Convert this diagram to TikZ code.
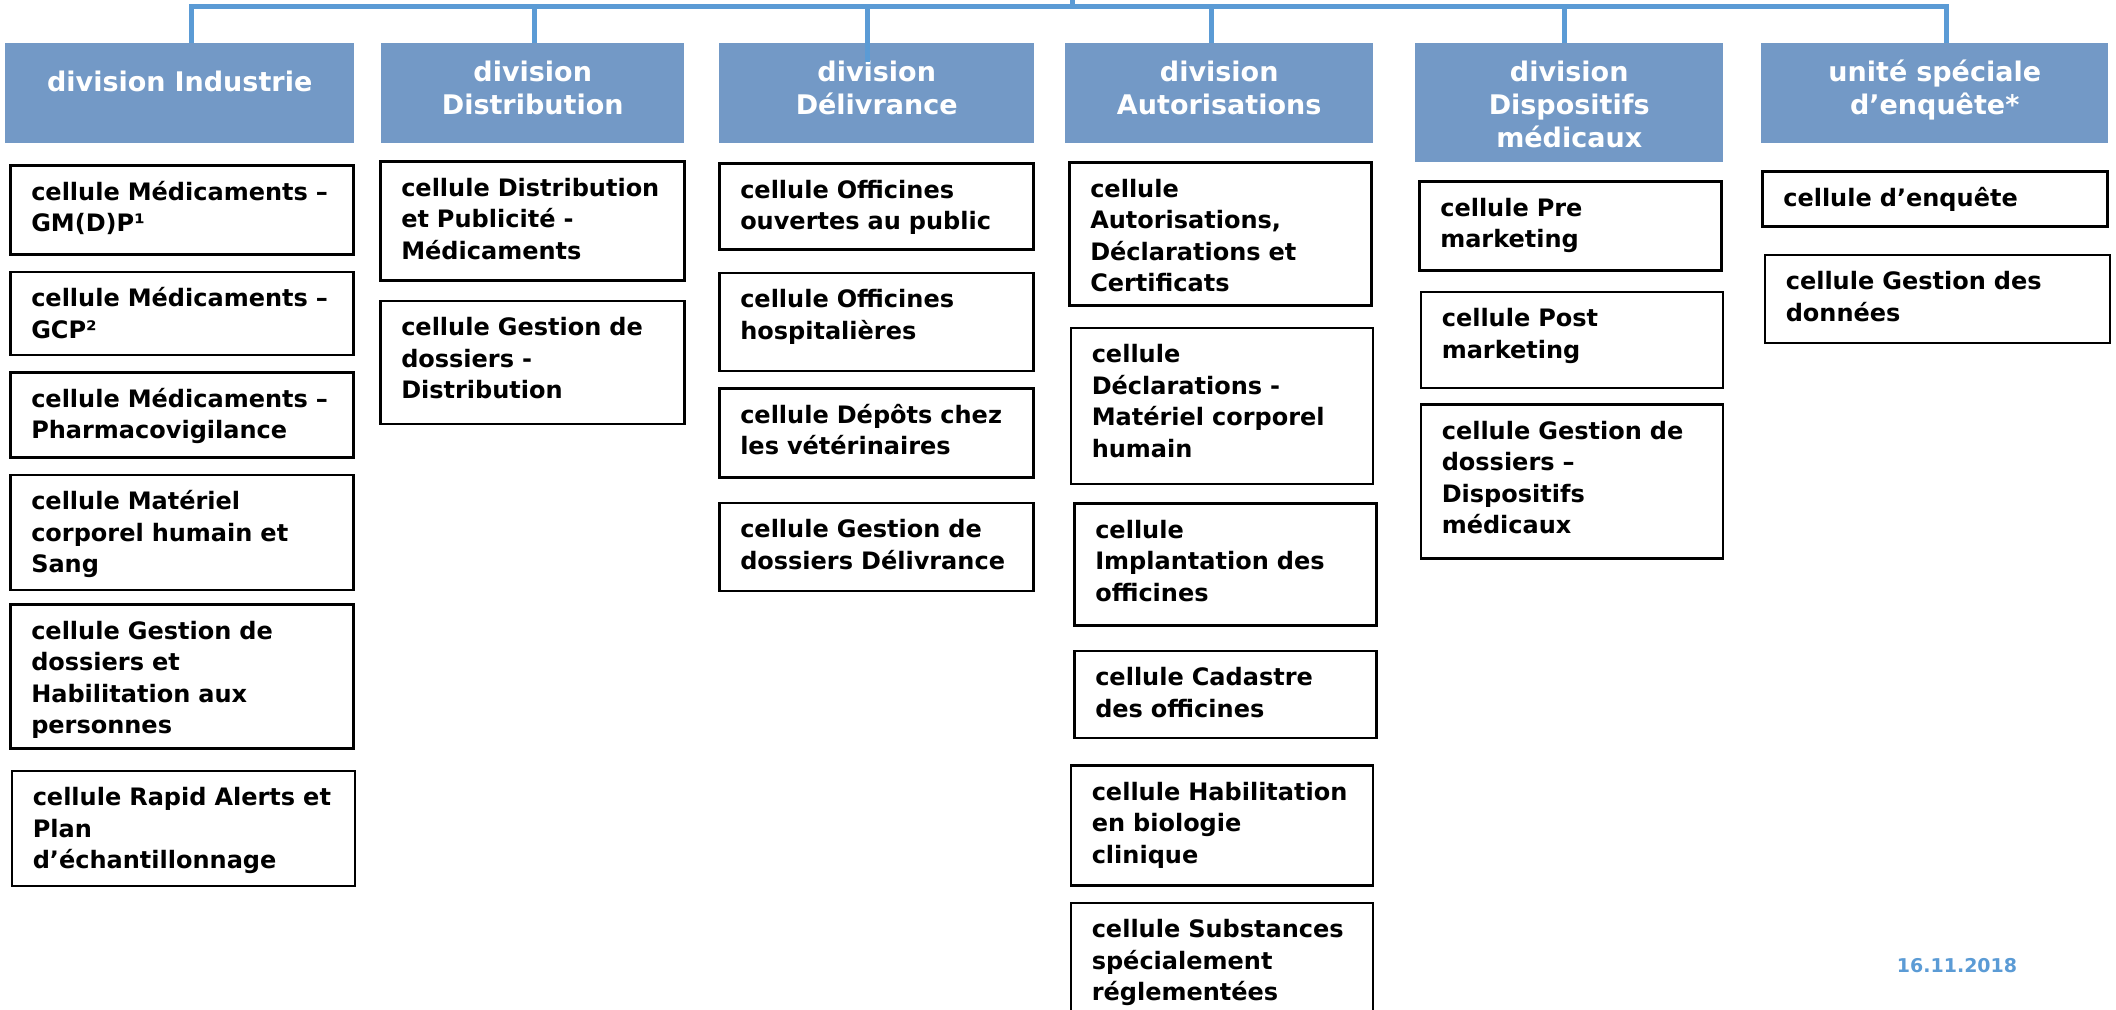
\documentclass[tikz,border=0pt]{standalone}
\usepackage{fontspec}
\setmainfont{DejaVu Sans}
\usetikzlibrary{positioning}
\definecolor{headblue}{HTML}{7399C6}
\definecolor{linkblue}{HTML}{5B9BD5}
\newcommand{\cellfont}{\bfseries\fontsize{24}{31.5}\selectfont\hyphenpenalty=10000}
\newcommand{\headfont}{\bfseries\fontsize{27}{33}\selectfont}

\begin{document}
\begin{tikzpicture} [node distance = 15pt,
cell/.style = {draw, line width=2.5pt, inner xsep=21pt, inner ysep=0pt, text height=35pt, text depth=#1, align=left, font=\cellfont},
head/.style = {fill=headblue, text=white, inner xsep=8pt, inner ysep=0pt, text height=38pt, text depth=#1, align=center, font=\headfont},
ind/.style = {cell=#1, text width=301pt},
dis/.style = {cell=#1, text width=262pt},
del/.style = {cell=#1, text width=272pt},
aut/.style = {cell=#1, text width=260pt},
dmd/.style = {cell=#1, text width=260pt},
enq/.style = {cell=#1, text width=303pt},
link/.style = {draw=linkblue, line width=5pt}]

\useasboundingbox (0,0) rectangle (2116pt,-1009pt);

\node (hInd) [head=52pt, text height=48pt, text width=333pt, anchor=north west] at (5pt,-43pt) {division Industrie};
\node (hDis) [head=62pt, text width=287pt, anchor=north west] at (381pt,-43pt) {division\\Distribution};
\node (hDel) [head=62pt, text width=299pt, anchor=north west] at (719pt,-43pt) {division\\Délivrance};
\node (hAut) [head=62pt, text width=292pt, anchor=north west] at (1065pt,-43pt) {division\\Autorisations};
\node (hDmd) [head=81pt, text width=292pt, anchor=north west] at (1415pt,-43pt) {division\\Dispositifs\\médicaux};
\node (hEnq) [head=62pt, text width=331pt, anchor=north west] at (1761pt,-43pt) {unité spéciale\\d’enquête*};

% division Industrie
\node (i1) [ind=54pt, anchor=north west] at (9pt,-164pt) {cellule Médicaments –\\GM(D)P¹};
\node (i2) [ind=48pt, below=of i1] {cellule Médicaments –\\GCP²};
\node (i3) [ind=50pt, below=of i2] {cellule Médicaments –\\Pharmacovigilance};
\node (i4) [ind=80pt, below=of i3] {cellule Matériel\\corporel humain et\\Sang};
\node (i5) [ind=109pt, below=12pt of i4] {cellule Gestion de\\dossiers et\\Habilitation aux\\personnes};
\node (i6) [ind=80pt, below=20pt of i5, xshift=1.5pt] {cellule Rapid Alerts et\\Plan\\d’échantillonnage};

% division Distribution
\node (s1) [dis=84pt, anchor=north west] at (379pt,-160pt) {cellule Distribution\\et Publicité -\\Médicaments};
\node (s2) [dis=88pt, below=18pt of s1] {cellule Gestion de\\dossiers -\\Distribution};

% division Délivrance
\node (l1) [del=51pt, anchor=north west] at (718pt,-162pt) {cellule Officines\\ouvertes au public};
\node (l2) [del=63pt, below=21pt of l1] {cellule Officines\\hospitalières};
\node (l3) [del=54pt, below=of l2] {cellule Dépôts chez\\les vétérinaires};
\node (l4) [del=53pt, below=23pt of l3] {cellule Gestion de\\dossiers Délivrance};

% division Autorisations
\node (a1) [aut=108pt, anchor=north west] at (1068pt,-161pt) {cellule\\Autorisations,\\Déclarations et\\Certificats};
\node (a2) [aut=121pt, below=20pt of a1, xshift=1.5pt] {cellule\\Déclarations -\\Matériel corporel\\humain};
\node (a3) [aut=87pt, below=17pt of a2, xshift=3.5pt] {cellule\\Implantation des\\officines};
\node (a4) [aut=52pt, below=23pt of a3] {cellule Cadastre\\des officines};
\node (a5) [aut=85pt, below=25pt of a4, xshift=-3.5pt] {cellule Habilitation\\en biologie\\clinique};
\node (a6) [aut=88pt, below=of a5] {cellule Substances\\spécialement\\réglementées};

% division Dispositifs médicaux
\node (m1) [dmd=54pt, anchor=north west] at (1418pt,-180pt) {cellule Pre\\marketing};
\node (m2) [dmd=61pt, below=19pt of m1, xshift=1.5pt] {cellule Post\\marketing};
\node (m3) [dmd=119pt, below=14pt of m2] {cellule Gestion de\\dossiers –\\Dispositifs\\médicaux};

% unité spéciale d'enquête
\node (e1) [enq=20pt, anchor=north west] at (1761pt,-170pt) {cellule d’enquête};
\node (e2) [enq=53pt, below=26pt of e1, xshift=2.5pt] {cellule Gestion des\\données};

\node (date) [font=\bfseries\fontsize{19}{19}\selectfont, text=linkblue, anchor=base] at (1957pt,-972pt) {16.11.2018};

\coordinate (up) at (1072pt,0pt);
\coordinate (bus) at (1072pt,-6.5pt);
\draw [link] (up) -- (bus);
\draw [link] ([xshift=11.5pt]hInd.north) |- (bus) -| ([xshift=11.5pt]hEnq.north);
\foreach \n/\dx in {hDis/1.5, hAut/-8, hDmd/-5}
  \draw [link] ([xshift=\dx pt]\n.north) -- ++(0pt,36.5pt);
\draw [link] ([xshift=-9.5pt, yshift=-19pt]hDel.north) -- ++(0pt,55.5pt);
\end{tikzpicture}
\end{document}
